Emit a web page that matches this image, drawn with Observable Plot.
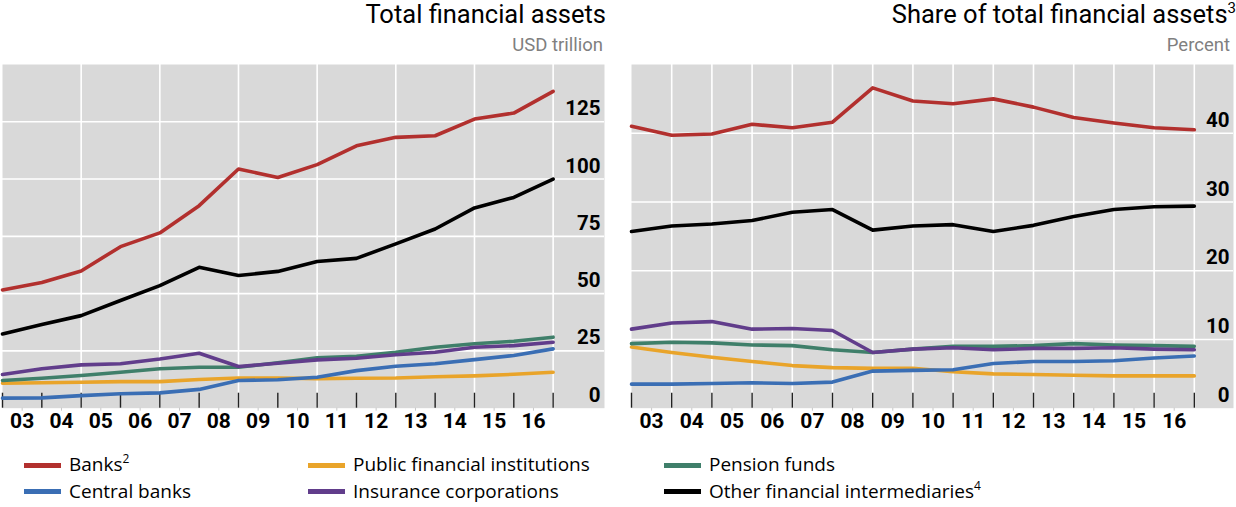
<!DOCTYPE html>
<html><head><meta charset="utf-8">
<script src="https://cdn.jsdelivr.net/npm/d3@7"></script>
<script src="https://cdn.jsdelivr.net/npm/@observablehq/plot@0.6"></script>
<style>
body{margin:0;background:#fff;}
#wrap{position:relative;width:1236px;height:507px;overflow:hidden;font-family:Roboto,"Open Sans",sans-serif;}
.title{position:absolute;font-size:25.5px;line-height:26px;color:#000;white-space:nowrap;}
.sub{position:absolute;font-size:18.5px;line-height:19px;color:#7f7f7f;white-space:nowrap;}
.title sup{font-size:15px;line-height:0;position:relative;top:-10px;vertical-align:baseline;}
.lg{position:absolute;font-family:"Open Sans",sans-serif;font-size:19px;line-height:19px;color:#000;white-space:nowrap;}
.lg sup{font-size:12px;line-height:0;vertical-align:baseline;position:relative;top:-8px;}
.sw{position:absolute;width:37px;height:5px;}
</style></head>
<body><div id="wrap"></div>
<script>
// ---- data ----
const years = [2002,2003,2004,2005,2006,2007,2008,2009,2010,2011,2012,2013,2014,2015,2016];
const xLabels = ["03","04","05","06","07","08","09","10","11","12","13","14","15","16"];
const seriesNames = ["Banks","Central banks","Public financial institutions","Insurance corporations","Pension funds","Other financial intermediaries"];
const seriesColors = ["#b2302e","#3a6eb4","#e9a42a","#613d8b","#3f7f6a","#000000"];

// Total financial assets, USD trillion
const banksTotal     = [51.6,54.9,59.9,70.5,76.5,88.4,104.4,100.7,106.3,114.5,118.2,118.9,126.2,128.8,138.3];
const centralTotal   = [4.4,4.5,5.5,6.3,6.7,8.2,12.1,12.4,13.5,16.4,18.3,19.4,21.2,23.0,25.9];
const publicTotal    = [10.9,11.1,11.3,11.6,11.6,12.5,13.2,13.2,12.9,13.1,13.2,13.7,14.1,14.8,15.7];
const insuranceTotal = [14.7,17.2,18.9,19.4,21.5,24.0,18.2,19.6,21.1,21.8,23.3,24.4,26.6,27.3,28.8];
const pensionTotal   = [12.1,13.1,14.3,15.7,17.2,17.9,17.9,19.8,22.0,22.7,24.4,26.6,28.1,29.2,31.0];
const ofiTotal       = [32.4,36.5,40.4,47.0,53.5,61.5,57.9,59.7,64.0,65.4,71.7,78.2,87.4,92.0,100.0];

// Share of total financial assets, percent
const banksShare     = [41.0,39.7,39.9,41.3,40.8,41.6,46.6,44.7,44.3,45.0,43.8,42.3,41.5,40.8,40.5];
const centralShare   = [3.5,3.5,3.6,3.7,3.6,3.8,5.4,5.5,5.6,6.5,6.8,6.8,6.9,7.3,7.6];
const publicShare    = [8.9,8.1,7.4,6.8,6.2,5.9,5.8,5.8,5.3,5.0,4.9,4.8,4.7,4.7,4.7];
const insuranceShare = [11.5,12.4,12.6,11.5,11.6,11.3,8.1,8.6,8.8,8.5,8.7,8.7,8.8,8.6,8.5];
const pensionShare   = [9.4,9.6,9.5,9.2,9.1,8.5,8.1,8.6,9.0,9.0,9.1,9.4,9.2,9.1,9.0];
const ofiShare       = [25.7,26.5,26.8,27.3,28.5,28.9,25.9,26.5,26.7,25.7,26.6,27.9,28.9,29.3,29.4];

const leftTicks = [0,25,50,75,100,125];
const rightTicks = [0,10,20,30,40];

// ---- build ----
const drawOrder = [2,4,3,1,5,0];
function tidy(arrs){
  const out=[];
  for(const s of drawOrder){
    years.forEach((y,i)=>out.push({year:y,value:arrs[s][i],name:seriesNames[s]}));
  }
  return out;
}
const leftData = tidy([banksTotal,centralTotal,publicTotal,insuranceTotal,pensionTotal,ofiTotal]);
const rightData = tidy([banksShare,centralShare,publicShare,insuranceShare,pensionShare,ofiShare]);
const labelData = xLabels.map((l,i)=>({x:years[i]+0.5,label:l}));

function panel({data,yTicks,yMax,xMax,gridYears,width,ml,mr}){
  return Plot.plot({
    width, height:389, marginTop:8, marginBottom:37.3, marginLeft:ml, marginRight:mr,
    style:{background:"transparent",overflow:"visible"},
    x:{domain:[years[0],xMax],axis:null},
    y:{domain:[0,yMax],axis:null},
    color:{domain:seriesNames,range:seriesColors},
    marks:[
      Plot.frame({fill:"#d9d9d9",stroke:null}),
      Plot.ruleY(yTicks.filter(d=>d>0),{stroke:"#fff",strokeWidth:1.6}),
      Plot.ruleX(gridYears,{stroke:"#fff",strokeWidth:1.6}),
      Plot.ruleX(years,{y1:0,y2:0,insetTop:-15,stroke:"#222",strokeWidth:1.4}),
      Plot.ruleX(labelData,{x:"x",y1:0,y2:0,insetBottom:-3,stroke:"#c8c8c8",strokeWidth:1}),
      Plot.line(data,{x:"year",y:"value",z:"name",stroke:"name",strokeWidth:3.6}),
      Plot.text(yTicks,{y:d=>d,text:d=>String(d),frameAnchor:"right",textAnchor:"end",dx:-4,dy:-13,fontSize:20.5,fontWeight:700,fill:"#000",fontFamily:"Roboto"}),
      Plot.text(labelData,{x:"x",text:"label",frameAnchor:"bottom",dy:19.5,fontSize:21,fontWeight:700,fill:"#000",fontFamily:"Roboto"})
    ]
  });
}

const wrap = document.getElementById("wrap");
const left = panel({data:leftData,yTicks:leftTicks,yMax:150,xMax:2017.306,
  gridYears:[2004,2006,2008,2010,2012,2014,2016],width:614,ml:2,mr:10});
left.style.left="0px"; left.style.top="56px"; left.style.position="absolute";
wrap.appendChild(left);
const right = panel({data:rightData,yTicks:rightTicks,yMax:50,xMax:2016.975,
  gridYears:years.slice(1),width:616,ml:11,mr:3});
right.style.left="620px"; right.style.top="56px"; right.style.position="absolute";
wrap.appendChild(right);

function addDiv(cls,html,css){
  const d=document.createElement("div");d.className=cls;d.innerHTML=html;
  Object.assign(d.style,css);wrap.appendChild(d);return d;
}
addDiv("title","Total financial assets",{right:(1236-606)+"px",top:"1px"});
addDiv("sub","USD trillion",{right:(1236-603)+"px",top:"36px"});
addDiv("title","Share of total financial assets<sup>3</sup>",{right:"0px",top:"1px"});
addDiv("sub","Percent",{right:(1236-1230)+"px",top:"36px"});

// legend
const legendItems = [
  {s:0,html:"Banks<sup>2</sup>",col:0,row:0},
  {s:2,html:"Public financial institutions",col:1,row:0},
  {s:4,html:"Pension funds",col:2,row:0},
  {s:1,html:"Central banks",col:0,row:1},
  {s:3,html:"Insurance corporations",col:1,row:1},
  {s:5,html:"Other financial intermediaries<sup>4</sup>",col:2,row:1}
];
const colX=[24,308,664], rowY=[465,491.5];
for(const it of legendItems){
  addDiv("sw","",{left:colX[it.col]+"px",top:(rowY[it.row]-2.5)+"px",background:seriesColors[it.s]});
  addDiv("lg",it.html,{left:(colX[it.col]+45)+"px",top:(rowY[it.row]-10)+"px"});
}
</script></body></html>
